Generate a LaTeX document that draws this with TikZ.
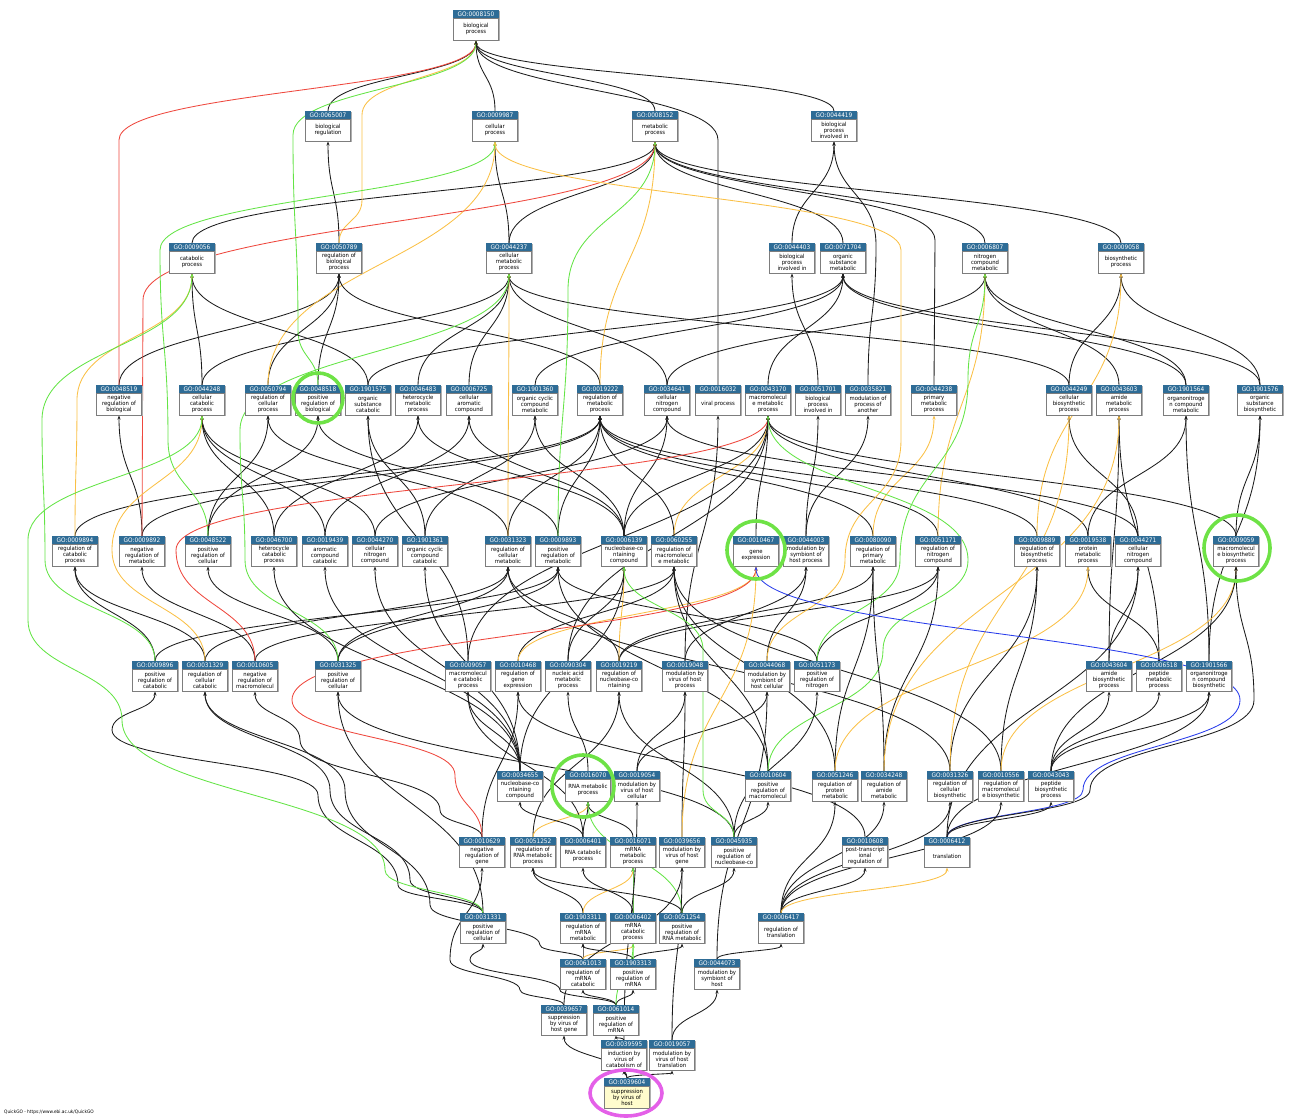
\documentclass[tikz,border=0pt]{standalone}
\usepackage{fontspec}
\setmainfont{DejaVu Sans}
\newfontfamily\gofont{DejaVu Sans}[FakeStretch=0.93]
\usetikzlibrary{arrows.meta,calc}
\pgfdeclarelayer{edgelayer}
\pgfsetlayers{edgelayer,main}

\definecolor{hdr}{RGB}{46,108,150}
\definecolor{kcol}{RGB}{28,28,28}
\definecolor{gcol}{RGB}{100,228,70}
\definecolor{rcol}{RGB}{238,72,62}
\definecolor{ocol}{RGB}{250,192,70}
\definecolor{bcol}{RGB}{40,60,235}
\definecolor{ring}{RGB}{110,226,70}
\definecolor{mring}{RGB}{228,96,232}
\definecolor{leaf}{RGB}{255,252,205}
\definecolor{boxline}{RGB}{125,125,125}
\definecolor{shade}{RGB}{175,175,175}

\tikzset{
  gohead/.style={anchor=north, minimum width=45pt, minimum height=8pt, inner sep=0pt,
    fill=hdr, draw=hdr, line width=0.5pt, text=white,
    font=\gofont\fontsize{6.2}{6.2}\selectfont},
  gobody/.style={anchor=north, minimum width=45pt, minimum height=22pt, inner sep=0.5pt,
    draw=boxline, line width=0.5pt, align=center,
    font=\gofont\fontsize{5.7}{5.9}\selectfont},
  boxshadow/.style={fill=shade},
  edgebase/.style={line width=0.85pt, -{Stealth[length=4pt,width=3pt]}},
  kedge/.style={edgebase, draw=kcol},
  gedge/.style={edgebase, draw=gcol},
  redge/.style={edgebase, draw=rcol},
  oedge/.style={edgebase, draw=ocol},
  bedge/.style={edgebase, draw=bcol},
  hlring/.style={draw=ring, line width=3.6pt},
  hlroot/.style={draw=mring, line width=3.6pt},
  % S-shaped spline with vertical tangents at both ends
  sroute/.style={to path={let \p1=(\tikztostart), \p2=(\tikztotarget) in
    .. controls (\x1,{0.5*(\y1+\y2)}) and (\x2,{0.5*(\y1+\y2)}) .. (\tikztotarget)}}
}

% term box: [fill]{id}{x}{top y}{label}
\newcommand\gonode[5][white]{%
  \fill[boxshadow] (#3-21.2,-#4-1.3) rectangle (#3+23.8,-#4-31.3);
  \node[gohead] (n#2h) at (#3,-#4) {GO:#2};
  \node[gobody,fill=#1] (n#2) at (#3,-#4-8) {#5};
}
% relation: [style]{child}{parent}
\newcommand\goedge[3][kedge]{%
  \draw[#1] (n#2h.north) to[sroute] (n#3.south);
}
% relation through bend points: [style]{child}{parent}{points}
\newcommand\goroute[4][kedge]{%
  \draw[#1] (n#2h.north) to[sroute] #4 to[sroute] (n#3.south);
}

\begin{document}
\begin{tikzpicture}[x=1pt,y=1pt]
\useasboundingbox (0,0) rectangle (1296,-1117);

% ---- rank 0
\gonode{0008150}{476}{10}{biological\\process}
% ---- rank 1
\gonode{0065007}{328}{111}{biological\\regulation}
\gonode{0009987}{495}{111}{cellular\\process}
\gonode{0008152}{655}{111}{metabolic\\process}
\gonode{0044419}{834}{111}{biological\\process\\involved in}
% ---- rank 2
\gonode{0009056}{192}{243}{catabolic\\process}
\gonode{0050789}{339}{243}{regulation of\\biological\\process}
\gonode{0044237}{509}{243}{cellular\\metabolic\\process}
\gonode{0044403}{792}{243}{biological\\process\\involved in}
\gonode{0071704}{843}{243}{organic\\substance\\metabolic}
\gonode{0006807}{985}{243}{nitrogen\\compound\\metabolic}
\gonode{0009058}{1121}{243}{biosynthetic\\process}
% ---- rank 3
\gonode{0048519}{119}{385}{negative\\regulation of\\biological}
\gonode{0044248}{202}{385}{cellular\\catabolic\\process}
\gonode{0050794}{268}{385}{regulation of\\cellular\\process}
\gonode{0048518}{318}{385}{positive\\regulation of\\biological}
\gonode{1901575}{368}{385}{organic\\substance\\catabolic}
\gonode{0046483}{418}{385}{heterocycle\\metabolic\\process}
\gonode{0006725}{469}{385}{cellular\\aromatic\\compound}
\gonode{1901360}{535}{385}{organic cyclic\\compound\\metabolic}
\gonode{0019222}{600}{385}{regulation of\\metabolic\\process}
\gonode{0034641}{667}{385}{cellular\\nitrogen\\compound}
\gonode{0016032}{718}{385}{viral process}
\gonode{0043170}{768}{385}{macromolecul\\e metabolic\\process}
\gonode{0051701}{818}{385}{biological\\process\\involved in}
\gonode{0035821}{868}{385}{modulation of\\process of\\another}
\gonode{0044238}{934}{385}{primary\\metabolic\\process}
\gonode{0044249}{1069}{385}{cellular\\biosynthetic\\process}
\gonode{0043603}{1119}{385}{amide\\metabolic\\process}
\gonode{1901564}{1186}{385}{organonitroge\\n compound\\metabolic}
\gonode{1901576}{1260}{385}{organic\\substance\\biosynthetic}
% ---- rank 4
\gonode{0009894}{75}{536}{regulation of\\catabolic\\process}
\gonode{0009892}{142}{536}{negative\\regulation of\\metabolic}
\gonode{0048522}{208}{536}{positive\\regulation of\\cellular}
\gonode{0046700}{274}{536}{heterocycle\\catabolic\\process}
\gonode{0019439}{325}{536}{aromatic\\compound\\catabolic}
\gonode{0044270}{375}{536}{cellular\\nitrogen\\compound}
\gonode{1901361}{425}{536}{organic cyclic\\compound\\catabolic}
\gonode{0031323}{508}{536}{regulation of\\cellular\\metabolic}
\gonode{0009893}{558}{536}{positive\\regulation of\\metabolic}
\gonode{0006139}{624}{536}{nucleobase-co\\ntaining\\compound}
\gonode{0060255}{674}{536}{regulation of\\macromolecul\\e metabolic}
\gonode{0010467}{756}{536}{gene\\expression}
\gonode{0044003}{806}{536}{modulation by\\symbiont of\\host process}
\gonode{0080090}{873}{536}{regulation of\\primary\\metabolic}
\gonode{0051171}{938}{536}{regulation of\\nitrogen\\compound}
\gonode{0009889}{1037}{536}{regulation of\\biosynthetic\\process}
\gonode{0019538}{1088}{536}{protein\\metabolic\\process}
\gonode{0044271}{1138}{536}{cellular\\nitrogen\\compound}
\gonode{0009059}{1236}{536}{macromolecul\\e biosynthetic\\process}
% ---- rank 5
\gonode{0009896}{155}{661}{positive\\regulation of\\catabolic}
\gonode{0031329}{205}{661}{regulation of\\cellular\\catabolic}
\gonode{0010605}{255}{661}{negative\\regulation of\\macromolecul}
\gonode{0031325}{338}{661}{positive\\regulation of\\cellular}
\gonode{0009057}{468}{661}{macromolecul\\e catabolic\\process}
\gonode{0010468}{518}{661}{regulation of\\gene\\expression}
\gonode{0090304}{568}{661}{nucleic acid\\metabolic\\process}
\gonode{0019219}{619}{661}{regulation of\\nucleobase-co\\ntaining}
\gonode{0019048}{685}{661}{modulation by\\virus of host\\process}
\gonode{0044068}{767}{661}{modulation by\\symbiont of\\host cellular}
\gonode{0051173}{817}{661}{positive\\regulation of\\nitrogen}
\gonode{0043604}{1109}{661}{amide\\biosynthetic\\process}
\gonode{0006518}{1159}{661}{peptide\\metabolic\\process}
\gonode{1901566}{1209}{661}{organonitroge\\n compound\\biosynthetic}
% ---- rank 6
\gonode{0034655}{520}{771}{nucleobase-co\\ntaining\\compound}
\gonode{0016070}{588}{771}{RNA metabolic\\process}
\gonode{0019054}{637}{771}{modulation by\\virus of host\\cellular}
\gonode{0010604}{768}{771}{positive\\regulation of\\macromolecul}
\gonode{0051246}{835}{771}{regulation of\\protein\\metabolic}
\gonode{0034248}{884}{771}{regulation of\\amide\\metabolic}
\gonode{0031326}{950}{771}{regulation of\\cellular\\biosynthetic}
\gonode{0010556}{1001}{771}{regulation of\\macromolecul\\e biosynthetic}
\gonode{0043043}{1051}{771}{peptide\\biosynthetic\\process}
% ---- rank 7
\gonode{0010629}{482}{837}{negative\\regulation of\\gene}
\gonode{0051252}{533}{837}{regulation of\\RNA metabolic\\process}
\gonode{0006401}{583}{837}{RNA catabolic\\process}
\gonode{0016071}{633}{837}{mRNA\\metabolic\\process}
\gonode{0039656}{682}{837}{modulation by\\virus of host\\gene}
\gonode{0045935}{734}{837}{positive\\regulation of\\nucleobase-co}
\gonode{0010608}{865}{837}{post-transcript\\ional\\regulation of}
\gonode{0006412}{947}{837}{translation}
% ---- rank 8
\gonode{0031331}{483}{913}{positive\\regulation of\\cellular}
\gonode{1903311}{583}{913}{regulation of\\mRNA\\metabolic}
\gonode{0006402}{633}{913}{mRNA\\catabolic\\process}
\gonode{0051254}{682}{913}{positive\\regulation of\\RNA metabolic}
\gonode{0006417}{781}{913}{regulation of\\translation}
% ---- rank 9
\gonode{0061013}{583}{959}{regulation of\\mRNA\\catabolic}
\gonode{1903313}{633}{959}{positive\\regulation of\\mRNA}
\gonode{0044073}{717}{959}{modulation by\\symbiont of\\host}
% ---- rank 10
\gonode{0039657}{564}{1005}{suppression\\by virus of\\host gene}
\gonode{0061014}{616}{1005}{positive\\regulation of\\mRNA}
% ---- rank 11
\gonode{0039595}{624}{1040}{induction by\\virus of\\catabolism of}
\gonode{0019057}{672}{1040}{modulation by\\virus of host\\translation}
% ---- rank 12
\gonode[leaf]{0039604}{627}{1078}{suppression\\by virus of\\host}

\begin{pgfonlayer}{edgelayer}
% rank 1
\goedge{0065007}{0008150}
\goedge{0009987}{0008150}
\goedge{0008152}{0008150}
\goedge{0044419}{0008150}
% rank 2
\goedge{0009056}{0008152}
\goedge{0050789}{0065007}
\goroute[oedge]{0050789}{0008150}{(362,-200) to[sroute] (362,-115)}
\goedge{0044237}{0009987}
\goedge{0044237}{0008152}
\goedge{0044403}{0044419}
\goedge{0071704}{0008152}
\goedge{0006807}{0008152}
\goedge{0009058}{0008152}
% rank 3
\goedge{0048519}{0050789}
\goroute[redge]{0048519}{0008150}{(119,-140)}
\goedge{0044248}{0009056}
\goedge{0044248}{0044237}
\goedge{0050794}{0050789}
\goedge[oedge]{0050794}{0009987}
\goedge{0048518}{0050789}
\goroute[gedge]{0048518}{0008150}{(298,-330) to[sroute] (293,-135)}
\goedge{1901575}{0009056}
\goedge{1901575}{0071704}
\goedge{0046483}{0044237}
\goedge{0006725}{0044237}
\goedge{1901360}{0071704}
\goedge{0019222}{0050789}
\goedge[oedge]{0019222}{0008152}
\goedge{0034641}{0044237}
\goedge{0034641}{0006807}
\goroute{0016032}{0008150}{(718,-140)}
\goedge{0043170}{0071704}
\goedge{0051701}{0044403}
\goroute{0035821}{0044419}{(876,-245)}
\goroute{0044238}{0008152}{(935,-240)}
\goedge{0044249}{0009058}
\goedge{0044249}{0044237}
\goedge{0043603}{0006807}
\goedge{1901564}{0006807}
\goedge{1901564}{0071704}
\goedge{1901576}{0009058}
\goedge{1901576}{0071704}
% rank 4
\goedge{0009894}{0019222}
\goroute[oedge]{0009894}{0009056}{(77,-400)}
\goedge{0009892}{0019222}
\goedge{0009892}{0048519}
\goroute[redge]{0009892}{0008152}{(143,-300)}
\goedge{0048522}{0050794}
\goedge{0048522}{0048518}
\goroute[gedge]{0048522}{0009987}{(168,-440) to[sroute] (160,-250)}
\goedge{0046700}{0044248}
\goedge{0046700}{0046483}
\goedge{0019439}{0044248}
\goedge{0019439}{0006725}
\goedge{0044270}{0044248}
\goedge{0044270}{0034641}
\goedge{1901361}{1901575}
\goedge{1901361}{1901360}
\goedge{0031323}{0019222}
\goedge{0031323}{0050794}
\goedge[oedge]{0031323}{0044237}
\goedge{0009893}{0019222}
\goedge{0009893}{0048518}
\goroute[gedge]{0009893}{0008152}{(568,-290)}
\goedge{0006139}{0034641}
\goedge{0006139}{0046483}
\goedge{0006139}{0006725}
\goedge{0006139}{1901360}
\goedge{0006139}{0043170}
\goedge{0060255}{0019222}
\goedge[oedge]{0060255}{0043170}
\goedge{0010467}{0043170}
\goedge{0044003}{0051701}
\goedge{0044003}{0035821}
\goedge{0080090}{0019222}
\goedge[oedge]{0080090}{0044238}
\goedge{0051171}{0019222}
\goedge[oedge]{0051171}{0006807}
\goedge{0009889}{0019222}
\goedge[oedge]{0009889}{0009058}
\goedge{0019538}{1901564}
\goedge{0019538}{0043170}
\goedge{0044271}{0034641}
\goedge{0044271}{0044249}
\goedge{0009059}{0043170}
\goedge{0009059}{1901576}
% rank 5
\goedge{0009896}{0009894}
\goedge{0009896}{0009893}
\goroute[gedge]{0009896}{0009056}{(45,-560) to[sroute] (42,-420)}
\goedge{0031329}{0009894}
\goedge{0031329}{0031323}
\goroute[oedge]{0031329}{0044248}{(112,-550)}
\goedge{0010605}{0009892}
\goedge{0010605}{0060255}
\goroute[redge]{0010605}{0043170}{(176,-550)}
\goedge{0031325}{0031323}
\goedge{0031325}{0009893}
\goedge{0031325}{0048522}
\goroute[gedge]{0031325}{0044237}{(245,-560) to[sroute] (240,-430)}
\goedge{0009057}{0043170}
\goedge{0009057}{1901575}
\goedge{0010468}{0060255}
\goedge[oedge]{0010468}{0010467}
\goedge{0090304}{0006139}
\goedge{0090304}{0043170}
\goedge{0019219}{0051171}
\goedge{0019219}{0031323}
\goedge{0019219}{0080090}
\goedge[oedge]{0019219}{0006139}
\goedge{0019048}{0044003}
\goedge{0019048}{0016032}
\goedge{0044068}{0044003}
\goroute[oedge]{0044068}{0009987}{(845,-560) to[sroute] (901,-440) to[sroute] (901,-250)}
\goedge{0051173}{0051171}
\goedge{0051173}{0009893}
\goroute[gedge]{0051173}{0006807}{(900,-560) to[sroute] (968,-380)}
\goedge{0043604}{0043603}
\goedge{0043604}{0044271}
\goedge{0006518}{0043603}
\goedge{0006518}{0019538}
\goedge{1901566}{1901564}
\goedge{1901566}{1901576}
% rank 6
\goedge{0034655}{0006139}
\goedge{0034655}{0046700}
\goedge{0034655}{0019439}
\goedge{0034655}{0044270}
\goedge{0034655}{1901361}
\goedge{0034655}{0009057}
\goedge{0016070}{0090304}
\goedge{0019054}{0019048}
\goedge{0019054}{0044068}
\goedge{0010604}{0060255}
\goedge{0010604}{0009893}
\goroute[gedge]{0010604}{0043170}{(883,-650) to[sroute] (968,-560)}
\goedge{0051246}{0060255}
\goedge{0051246}{0080090}
\goedge[oedge]{0051246}{0019538}
\goedge{0034248}{0051171}
\goedge{0034248}{0080090}
\goedge[oedge]{0034248}{0043603}
\goedge{0031326}{0009889}
\goedge{0031326}{0031323}
\goedge[oedge]{0031326}{0044249}
\goedge{0010556}{0009889}
\goedge{0010556}{0060255}
\goedge[oedge]{0010556}{0009059}
\goedge{0043043}{0043604}
\goedge{0043043}{0006518}
\goedge{0043043}{1901566}
\goedge{0043043}{0009059}
% rank 7
\goedge{0010629}{0010468}
\goroute{0010629}{0010605}{(440,-810) to[sroute] (300,-740)}
\goroute[redge]{0010629}{0010467}{(455,-775) to[sroute] (292,-700)}
\goedge{0051252}{0019219}
\goedge[oedge]{0051252}{0016070}
\goedge{0006401}{0016070}
\goedge{0006401}{0034655}
\goedge{0006401}{0009057}
\goedge{0016071}{0016070}
\goedge{0039656}{0019048}
\goedge[oedge]{0039656}{0010467}
\goedge{0045935}{0019219}
\goedge{0045935}{0051173}
\goedge{0045935}{0031325}
\goedge{0045935}{0010604}
\goroute[gedge]{0045935}{0006139}{(703,-790) to[sroute] (703,-650)}
\goedge{0010608}{0010468}
\goedge{0006412}{0043043}
\goroute[bedge]{0006412}{0010467}{(1083,-790) to[sroute] (1240,-700)}
\goroute{0006412}{0009059}{(1090,-790) to[sroute] (1254,-700)}
\goedge{0006412}{0044271}
\goedge{0006412}{1901566}
% rank 8
\goroute{0031331}{0031329}{(410,-880) to[sroute] (330,-790)}
\goroute{0031331}{0009896}{(398,-885) to[sroute] (318,-795) to[sroute] (112,-730)}
\goedge{0031331}{0031325}
\goroute[gedge]{0031331}{0044248}{(385,-870) to[sroute] (122,-720) to[sroute] (28,-620) to[sroute] (28,-540)}
\goedge{1903311}{0051252}
\goedge[oedge]{1903311}{0016071}
\goedge{0006402}{0006401}
\goedge{0006402}{0016071}
\goedge{0051254}{0051252}
\goedge{0051254}{0045935}
\goedge[gedge]{0051254}{0016070}
\goedge{0006417}{0010608}
\goedge{0006417}{0051246}
\goedge{0006417}{0034248}
\goedge{0006417}{0010556}
\goedge{0006417}{0031326}
\goedge[oedge]{0006417}{0006412}
% rank 9
\goedge{0061013}{1903311}
\goroute{0061013}{0031329}{(540,-945) to[sroute] (430,-905) to[sroute] (345,-790)}
\goedge[oedge]{0061013}{0006402}
\goedge{1903313}{1903311}
\goedge{1903313}{0051254}
\goedge[gedge]{1903313}{0016071}
\goedge{0044073}{0006417}
\goedge{0044073}{0044068}
% rank 10
\goedge{0039657}{0039656}
\goroute{0039657}{0010629}{(520,-990) to[sroute] (450,-960)}
\goedge{0061014}{0061013}
\goedge{0061014}{1903313}
\goroute{0061014}{0031331}{(560,-990) to[sroute] (470,-960)}
\goedge[gedge]{0061014}{0006402}
% rank 11
\goedge{0039595}{0061014}
\goedge{0039595}{0019054}
\goedge{0019057}{0044073}
\goedge{0019057}{0039656}
% rank 12
\goedge{0039604}{0039657}
\goedge{0039604}{0019057}
\goedge{0039604}{0039595}
\end{pgfonlayer}

% highlighted terms
\draw[hlring] (318,-398) circle (25);
\draw[hlring] (756,-550) circle (29);
\draw[hlring] (1237,-548) circle (33);
\draw[hlring] (583,-786) circle (31);
\draw[hlroot] (626,-1093) ellipse (36 and 23);

\node[anchor=west, inner sep=0pt, font=\gofont\fontsize{4.6}{5}\selectfont] (credit) at (4,-1112) {QuickGO - https://www.ebi.ac.uk/QuickGO};
\end{tikzpicture}
\end{document}
